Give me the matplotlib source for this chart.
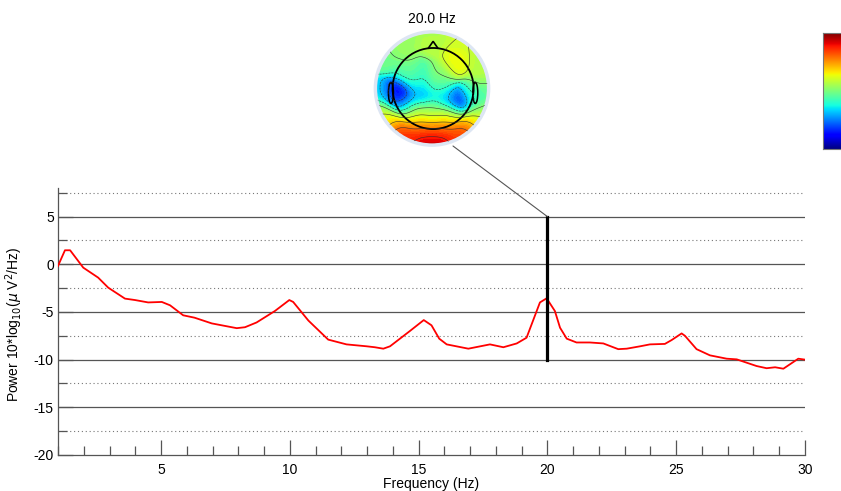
import matplotlib
matplotlib.use("Agg")
import matplotlib.pyplot as plt
import numpy as np
from matplotlib.patches import Circle, Polygon, Ellipse
from matplotlib.patches import ConnectionPatch
from matplotlib.ticker import MultipleLocator

plt.rcParams["font.family"] = ["Liberation Sans", "DejaVu Sans"]
plt.rcParams["axes.unicode_minus"] = False

# spectrum (Hz, dB)
freqs = [1.0, 1.27, 1.47, 1.98, 2.56, 2.95, 3.6, 3.99, 4.5, 5.03, 5.35, 5.86, 6.3, 6.97,
         7.94, 8.26, 8.71, 9.42, 9.98, 10.13, 10.72, 11.49, 12.2, 12.98, 13.3, 13.63, 13.89,
         14.66, 15.2, 15.5, 15.8, 16.09, 16.93, 17.77, 18.29, 18.81, 19.19, 19.71, 19.97,
         20.29, 20.49, 20.75, 21.13, 21.65, 22.17, 22.75, 23.08, 23.6, 23.98, 24.56, 24.82,
         25.21, 25.34, 25.79, 26.31, 26.96, 27.35, 28.12, 28.51, 28.84, 29.16, 29.74, 30.0]
power = [-0.17, 1.47, 1.47, -0.35, -1.4, -2.45, -3.6, -3.75, -4.0, -3.95, -4.3, -5.35, -5.6, -6.2,
         -6.7, -6.6, -6.1, -4.9, -3.75, -3.95, -5.9, -7.9, -8.4, -8.6, -8.7, -8.85, -8.6,
         -7.0, -5.85, -6.4, -7.8, -8.4, -8.85, -8.4, -8.7, -8.3, -7.7, -4.0, -3.57,
         -4.9, -6.65, -7.8, -8.2, -8.2, -8.3, -8.9, -8.85, -8.6, -8.4, -8.35, -7.95,
         -7.25, -7.5, -8.9, -9.55, -9.9, -9.97, -10.67, -10.9, -10.8, -10.95, -9.9, -10.0]

map_freq = 20.0
map_lo, map_hi = -10.0, 5.0

# scalp map samples (x, y in head units, relative value)
topo_x = [0.0, -0.72, -0.48, 0.41, 0.9, -0.4, -0.55, -0.25, 0.12, -0.18, -0.3, -0.63,
          -0.63, -0.87, -0.49, 0.5, 0.23, 0.12, 0.72, 0.84, 0.0, 0.0, 0.0, 0.0, 0.0, 0.0,
          -0.72, 0.72, -0.54, 0.54, -0.94, 0.94, -0.35, 0.35, -0.3, 0.3, -0.25, 0.25,
          0.0, 0.52, 0.91, 1.05, 0.91, 0.52, 0.0, -0.52, -0.91, -1.05, -0.91, -0.52]
topo_y = [0.81, 0.51, 0.69, 0.46, 0.28, 0.3, 0.3, 0.3, 0.27, -0.08, 0.15, -0.0,
          -0.15, -0.09, -0.3, -0.24, -0.15, 0.1, -0.08, -0.26, -0.42, -0.54, -0.62, -0.75, -0.87, -0.98,
          -0.62, -0.62, -0.81, -0.81, -0.39, -0.39, -0.48, -0.48, -0.65, -0.65, -0.87, -0.87,
          1.05, 0.91, 0.52, 0.0, -0.52, -0.91, -1.05, -0.91, -0.52, 0.0, 0.52, 0.91]
topo_v = [0.15, 0.0, 0.1, 0.3, 0.15, 0.15, -0.2, -0.2, 0.05, -0.4, -0.3, -0.9,
          -0.85, -0.4, -0.35, -0.85, -0.35, -0.1, -0.1, -0.25, -0.15, 0.2, 0.45, 0.7, 0.85, 0.95,
          0.4, 0.4, 0.75, 0.7, 0.1, 0.1, 0.1, 0.1, 0.5, 0.5, 0.85, 0.85,
          0.1, 0.2, 0.15, -0.05, 0.3, 0.75, 0.95, 0.8, 0.3, -0.3, -0.05, 0.05]

fig = plt.figure(figsize=(8.41, 4.91), dpi=100)
W, H = 841.0, 491.0

# spectrum axes
ax = fig.add_axes([58 / W, 1 - 455 / H, (805 - 58) / W, (455 - 188) / H])
ax.set_xlim(1, 30)
ax.set_ylim(-20, 8)
ax.xaxis.set_major_locator(MultipleLocator(5))
ax.xaxis.set_minor_locator(MultipleLocator(1))
ax.yaxis.set_major_locator(MultipleLocator(5))
ax.yaxis.set_minor_locator(MultipleLocator(2.5))
ax.tick_params(which="major", direction="in", length=10.5, width=0.9, color="#555555",
               labelsize=10, top=False, right=False)
ax.tick_params(axis="x", which="major", pad=6)
ax.tick_params(axis="y", which="major", pad=3)
ax.tick_params(which="minor", direction="in", length=6.5, width=0.9, color="#555555",
               top=False, right=False)
for side in ["top", "right"]:
    ax.spines[side].set_visible(False)
for side in ["left", "bottom"]:
    ax.spines[side].set_color("#555555")
    ax.spines[side].set_linewidth(0.9)

for yv in [5, 0, -5, -10, -15]:
    ax.axhline(yv, color="#555555", linewidth=0.9, zorder=1)
for yv in [7.5, 2.5, -2.5, -7.5, -12.5, -17.5]:
    ax.axhline(yv, color="#777777", linewidth=0.8, linestyle=(0, (1, 2.5)), zorder=1)

ax.plot(freqs, power, color="red", linewidth=1.3, zorder=3)
ax.plot([map_freq, map_freq], [map_lo, map_hi], color="black", linewidth=2.3, zorder=4)

ax.set_xlabel("Frequency (Hz)", fontsize=10, labelpad=0)
ax.set_ylabel(r"Power 10*log$_{10}$($\mu$ V$^2$/Hz)", fontsize=10)
ax.yaxis.set_label_coords(-0.044, 0.49)

# scalp map
r_px = 64.0
cx, cy = 432.0, 88.5
unit = 55.5
lim = r_px / unit
tax = fig.add_axes([(cx - r_px) / W, 1 - (cy + r_px) / H, 2 * r_px / W, 2 * r_px / H])
tax.set_xlim(-lim, lim)
tax.set_ylim(-lim, lim)
tax.set_aspect("equal")
tax.axis("off")

# gaussian-weighted smoothing of the samples onto a grid
gx, gy = np.meshgrid(np.linspace(-1.05, 1.05, 160), np.linspace(-1.05, 1.05, 160))
sx = np.array(topo_x)[:, None, None]
sy = np.array(topo_y)[:, None, None]
wts = np.exp(-((gx - sx) ** 2 + (gy - sy) ** 2) / (2 * 0.15 ** 2))
field = (wts * np.array(topo_v)[:, None, None]).sum(0) / wts.sum(0)

disc = Circle((0, 0), 1.0, transform=tax.transData)
cf = tax.contourf(gx, gy, field, levels=np.linspace(-1.05, 1.05, 60), cmap="jet", extend="both")
cf.set_clip_path(disc)
cl = tax.contour(gx, gy, field, levels=np.linspace(-0.8, 0.8, 9), colors="#333333", linewidths=0.4)
cl.set_clip_path(disc)
tax.add_patch(Circle((0, 0), 1.02, fill=False, edgecolor="#dde6f3", linewidth=2.5))

hx, hy, hr = 0.02, 0.0, 0.73
tax.add_patch(Circle((hx, hy), hr, fill=False, edgecolor="black", linewidth=1.3))
tax.add_patch(Polygon([[hx - 0.09, hy + hr - 0.01], [hx, hy + hr + 0.12], [hx + 0.09, hy + hr - 0.01]],
                      closed=False, fill=False, edgecolor="black", linewidth=1.2))
tax.add_patch(Ellipse((hx - hr - 0.03, hy - 0.08), 0.09, 0.38, fill=False, edgecolor="black", linewidth=1.1))
tax.add_patch(Ellipse((hx + hr + 0.03, hy - 0.08), 0.09, 0.38, fill=False, edgecolor="black", linewidth=1.1))
fig.text(cx / W, 1 - 19 / H, f"{map_freq:.1f} Hz", ha="center", va="center", fontsize=10)

# connector from map to spectrum
con = ConnectionPatch(xyA=(map_freq, map_hi), coordsA=ax.transData,
                      xyB=(453 / W, 1 - 146 / H), coordsB=fig.transFigure,
                      color="#555555", linewidth=0.8)
fig.add_artist(con)

# colour bar (cut by the figure edge)
cax = fig.add_axes([823 / W, 1 - 149 / H, 30 / W, 116 / H])
grad = np.linspace(0, 1, 256).reshape(-1, 1)
cax.imshow(grad, aspect="auto", cmap="jet", origin="lower")
cax.set_xticks([])
cax.set_yticks([])
for s in cax.spines.values():
    s.set_color("#777777")
    s.set_linewidth(0.8)

fig.savefig("out.png", dpi=100)
